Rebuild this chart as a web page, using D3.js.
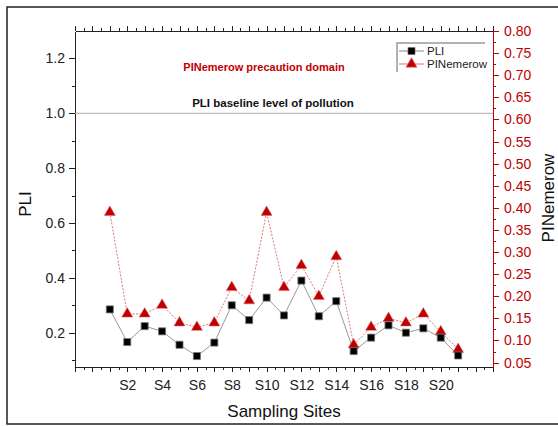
<!DOCTYPE html>
<head>
  <meta charset="utf-8">
  <script src="https://d3js.org/d3.v7.min.js"></script>
  <style>
    html, body { margin: 0; padding: 0; background: #fff; }
    body { font-family: 'Liberation Sans', Arial, sans-serif; }
    text { font-family: 'Liberation Sans', Arial, sans-serif; }
    .axis path, .axis line { shape-rendering: crispEdges; }
  </style>
</head>
<body>
<div id="chart"></div>
<script>

// values
const sites = d3.range(1, 22);   // S1 .. S21
const pli = [0.285, 0.166, 0.224, 0.205, 0.156, 0.115, 0.164, 0.300, 0.246, 0.328,
             0.263, 0.390, 0.260, 0.315, 0.133, 0.182, 0.227, 0.200, 0.216, 0.182, 0.117];
const piNemerow = [0.39, 0.16, 0.16, 0.18, 0.14, 0.13, 0.14, 0.22, 0.19, 0.39,
                   0.22, 0.27, 0.20, 0.29, 0.09, 0.13, 0.15, 0.14, 0.16, 0.12, 0.08];
const leftTicks = [0.2, 0.4, 0.6, 0.8, 1.0, 1.2];
const rightTicks = d3.range(0.05, 0.8001, 0.05);
const xLabelTicks = [2, 4, 6, 8, 10, 12, 14, 16, 18, 20];

const red = "#c00000";
const width = 558, height = 426;
const margin = { top: 31, right: 65, bottom: 59, left: 75 };

const svg = d3.select("#chart").append("svg")
    .attr("width", width)
    .attr("height", height);

// outer frame
svg.append("rect")
    .attr("x", 7).attr("y", 7)
    .attr("width", 570).attr("height", 417)
    .attr("fill", "none")
    .attr("stroke", "#222")
    .attr("stroke-width", 1.5);

const x = d3.scaleLinear().domain([-1, 23]).range([margin.left, width - margin.right]);
const yL = d3.scaleLinear().domain([0.075, 1.3]).range([height - margin.bottom, margin.top]);
const yR = d3.scaleLinear().domain([0.04, 0.80]).range([height - margin.bottom, margin.top]);

const x0 = margin.left, x1 = width - margin.right;
const y0 = height - margin.bottom, y1 = margin.top;

///////////////////////// axes /////////////////////////

// bottom: major every site, minor at halves
svg.append("g").attr("class", "axis")
    .attr("transform", "translate(0," + y0 + ")")
    .call(d3.axisBottom(x).tickValues(d3.range(-0.5, 23, 1)).tickSize(3).tickSizeOuter(0).tickFormat(""));
svg.append("g").attr("class", "axis")
    .attr("transform", "translate(0," + y0 + ")")
    .call(d3.axisBottom(x).tickValues(d3.range(-1, 24, 1)).tickSize(5).tickSizeOuter(0).tickPadding(8)
        .tickFormat(d => xLabelTicks.includes(d) ? "S" + d : ""));

// top: mirror ticks, no labels
svg.append("g").attr("class", "axis")
    .attr("transform", "translate(0," + y1 + ")")
    .call(d3.axisTop(x).tickValues(d3.range(-0.5, 23, 1)).tickSize(3).tickSizeOuter(0).tickFormat(""));
svg.append("g").attr("class", "axis")
    .attr("transform", "translate(0," + y1 + ")")
    .call(d3.axisTop(x).tickValues(d3.range(-1, 24, 1)).tickSize(5).tickSizeOuter(0).tickFormat(""));

// left PLI axis
svg.append("g").attr("class", "axis")
    .attr("transform", "translate(" + x0 + ",0)")
    .call(d3.axisLeft(yL).tickValues([0.1, 0.3, 0.5, 0.7, 0.9, 1.1]).tickSize(3).tickSizeOuter(0).tickFormat(""));
svg.append("g").attr("class", "axis")
    .attr("transform", "translate(" + x0 + ",0)")
    .call(d3.axisLeft(yL).tickValues(leftTicks).tickSize(6).tickSizeOuter(0).tickPadding(4).tickFormat(d3.format(".1f")));

// right PINemerow axis
svg.append("g").attr("class", "axis right-axis")
    .attr("transform", "translate(" + x1 + ",0)")
    .call(d3.axisRight(yR).tickValues(d3.range(0.075, 0.8, 0.05)).tickSize(3).tickSizeOuter(0).tickFormat(""));
svg.append("g").attr("class", "axis right-axis")
    .attr("transform", "translate(" + x1 + ",0)")
    .call(d3.axisRight(yR).tickValues(rightTicks).tickSize(6).tickSizeOuter(0).tickPadding(5).tickFormat(d3.format(".2f")));

svg.selectAll(".axis text").attr("font-size", "14px").attr("fill", "#222");
svg.selectAll(".axis path, .axis line").attr("stroke", "#222");
svg.selectAll(".right-axis text").attr("fill", red);
svg.selectAll(".right-axis path, .right-axis line").attr("stroke", red);

// axis titles
svg.append("text")
    .attr("transform", "translate(31,204) rotate(-90)")
    .attr("text-anchor", "middle")
    .attr("font-size", "17px").attr("fill", "#111")
    .text("PLI");
svg.append("text")
    .attr("transform", "translate(554,198) rotate(-90)")
    .attr("text-anchor", "middle")
    .attr("font-size", "17px").attr("fill", "#111")
    .text("PINemerow");
svg.append("text")
    .attr("x", (x0 + x1) / 2).attr("y", 417)
    .attr("text-anchor", "middle")
    .attr("font-size", "17px").attr("fill", "#111")
    .text("Sampling Sites");

///////////////////////// reference line & notes /////////////////////////

svg.append("line")
    .attr("x1", x0).attr("x2", x1)
    .attr("y1", yL(1.0)).attr("y2", yL(1.0))
    .attr("stroke", "#aaa").attr("stroke-width", 1);

svg.append("text")
    .attr("x", 264).attr("y", 71)
    .attr("text-anchor", "middle")
    .attr("font-size", "11px").attr("font-weight", "bold").attr("fill", red)
    .text("PINemerow precaution domain");
svg.append("text")
    .attr("x", 273).attr("y", 106.5)
    .attr("text-anchor", "middle")
    .attr("font-size", "11.5px").attr("font-weight", "bold").attr("fill", "#111")
    .text("PLI baseline level of pollution");

///////////////////////// series /////////////////////////

const pinLine = d3.line().x((d, i) => x(sites[i])).y(d => yR(d));
const pliLine = d3.line().x((d, i) => x(sites[i])).y(d => yL(d));

svg.append("path").datum(piNemerow)
    .attr("d", pinLine)
    .attr("fill", "none")
    .attr("stroke", "#e07878")
    .attr("stroke-width", 1)
    .attr("stroke-dasharray", "2,1.5");

svg.append("path").datum(pli)
    .attr("d", pliLine)
    .attr("fill", "none")
    .attr("stroke", "#999")
    .attr("stroke-width", 1);

const tri = d3.symbol().type(d3.symbolTriangle).size(52);
const sq = d3.symbol().type(d3.symbolSquare).size(50);

svg.selectAll(".tri").data(piNemerow).enter().append("path")
    .attr("class", "tri")
    .attr("d", tri)
    .attr("transform", (d, i) => "translate(" + x(sites[i]) + "," + yR(d) + ")")
    .attr("fill", red)
    .attr("stroke", "#e06060").attr("stroke-width", 0.5);

svg.selectAll(".sq").data(pli).enter().append("path")
    .attr("class", "sq")
    .attr("d", sq)
    .attr("transform", (d, i) => "translate(" + x(sites[i]) + "," + yL(d) + ")")
    .attr("fill", "#000")
    .attr("stroke", "#777").attr("stroke-width", 0.8);

///////////////////////// legend /////////////////////////

const legend = svg.append("g");
legend.append("path")
    .attr("d", "M397,72V43H485")
    .attr("fill", "none").attr("stroke", "#999").attr("stroke-width", 1.5);

const legendItems = [
    { name: "PLI", y: 51, line: "#888", sym: sq, fill: "#000", stroke: "#777" },
    { name: "PINemerow", y: 64, line: "#e07070", sym: tri, fill: red, stroke: "#e06060" }
];
legendItems.forEach(it => {
    legend.append("line")
        .attr("x1", 399).attr("x2", 424)
        .attr("y1", it.y).attr("y2", it.y)
        .attr("stroke", it.line).attr("stroke-width", 1);
    legend.append("path")
        .attr("d", it.sym)
        .attr("transform", "translate(411.5," + it.y + ")")
        .attr("fill", it.fill).attr("stroke", it.stroke).attr("stroke-width", 0.6);
    legend.append("text")
        .attr("x", 427).attr("y", it.y + 4)
        .attr("font-size", "11.5px").attr("fill", "#222")
        .text(it.name);
});

</script>
</body>
